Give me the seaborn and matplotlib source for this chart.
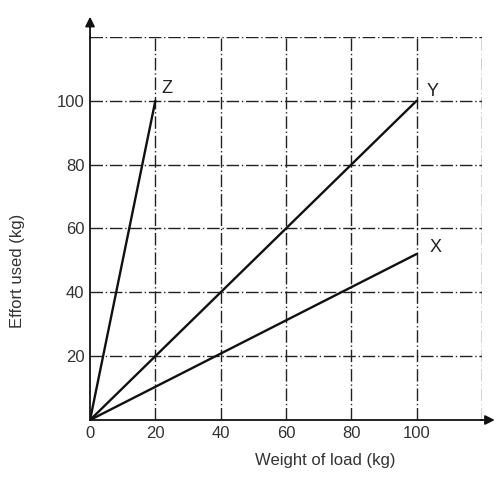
import pandas as pd
import matplotlib
matplotlib.use("Agg")
import matplotlib.pyplot as plt
import seaborn as sns

# lines from the origin to their end points
line_names = ["Z", "Y", "X"]
load_end = [20, 100, 100]
effort_end = [100, 100, 52]
x_ticks = [0, 20, 40, 60, 80, 100]
y_ticks = [20, 40, 60, 80, 100]

rows = []
for name, xe, ye in zip(line_names, load_end, effort_end):
    rows.append({"line": name, "load": 0, "effort": 0})
    rows.append({"line": name, "load": xe, "effort": ye})
df = pd.DataFrame(rows)

sns.set_style("white")
plt.rcParams["font.family"] = ["Liberation Sans", "DejaVu Sans"]

fig = plt.figure(figsize=(5.03, 4.8), dpi=100)
ax = fig.add_axes([0.179, 0.125, 0.779, 0.798])

# dash-dot grid
grid_ls = (0, (9, 2, 1, 2))
for v in range(20, 121, 20):
    ax.axvline(v, color="#222222", lw=1.0, ls=grid_ls, zorder=1)
    ax.axhline(v, color="#222222", lw=1.0, ls=grid_ls, zorder=1)

sns.lineplot(data=df, x="load", y="effort", units="line", estimator=None,
             color="#111111", lw=1.7, ax=ax, zorder=3)

label_dx = [2, 3, 4]
label_dy = [4, 3, 2]
for name, xe, ye, dx, dy in zip(line_names, load_end, effort_end, label_dx, label_dy):
    ax.text(xe + dx, ye + dy, name, fontsize=13, color="#222222",
            ha="left", va="center")

ax.set_xlim(0, 120)
ax.set_ylim(0, 120)
ax.set_xticks(x_ticks)
ax.set_yticks(y_ticks)
ax.tick_params(length=0, labelsize=12, colors="#333333", pad=4)
ax.set_xlabel("Weight of load (kg)", fontsize=12, color="#333333")
ax.set_ylabel("Effort used (kg)", fontsize=12, color="#333333")
ax.xaxis.set_label_coords(0.60, -0.085)
ax.yaxis.set_label_coords(-0.165, 0.39)
for s in ["top", "right"]:
    ax.spines[s].set_visible(False)
for s in ["left", "bottom"]:
    ax.spines[s].set_color("#111111")
    ax.spines[s].set_linewidth(1.3)

# axis arrows
ax.annotate("", xy=(1.04, 0), xytext=(0.99, 0), xycoords="axes fraction",
            arrowprops=dict(arrowstyle="-|>", color="#111111", lw=1.3,
                            mutation_scale=14), annotation_clip=False)
ax.annotate("", xy=(0, 1.06), xytext=(0, 0.99), xycoords="axes fraction",
            arrowprops=dict(arrowstyle="-|>", color="#111111", lw=1.3,
                            mutation_scale=14), annotation_clip=False)

fig.savefig("out.png", dpi=100)
